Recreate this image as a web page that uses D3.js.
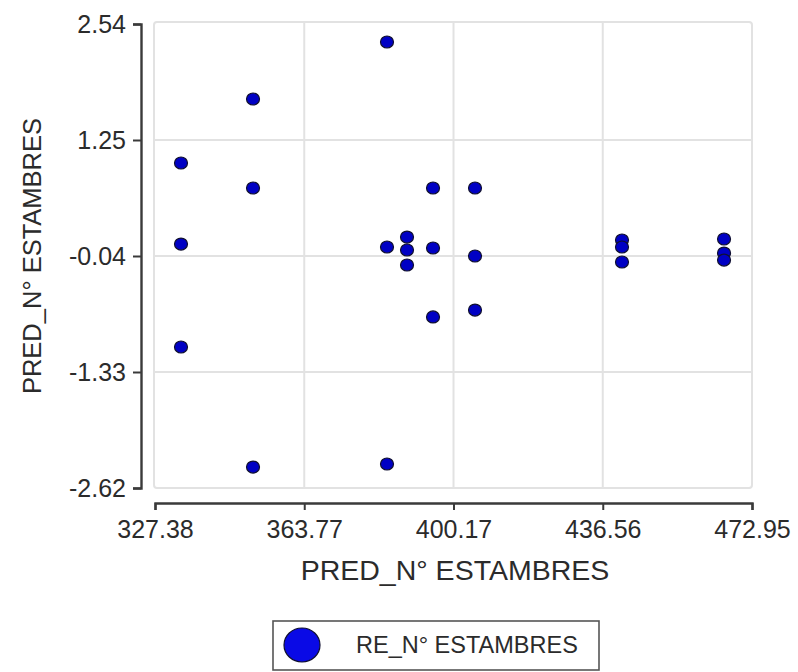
<!DOCTYPE html>
<html>
<head>
<meta charset="utf-8">
<script src="https://cdn.jsdelivr.net/npm/d3@7"></script>
<style>
  html, body { margin: 0; padding: 0; background: #fff; }
  svg { display: block; }
  text { font-family: "Liberation Sans", Arial, sans-serif; fill: #2b2b2b; }
</style>
</head>
<body>
<svg id="chart" width="798" height="672"></svg>
<script>
// ---- data ----
const xValues = [333.72, 333.72, 333.72, 351.28, 351.28, 351.28, 383.95, 383.95, 383.95,
                 388.83, 388.83, 388.83, 395.17, 395.17, 395.17, 405.41, 405.41, 405.41,
                 441.25, 441.25, 441.25, 466.13, 466.13, 466.13];
const yValues = [0.994, 0.093, -1.052, 1.706, 0.716, -2.387, 2.34, 0.06, -2.353,
                 0.171, 0.027, -0.14, 0.716, 0.049, -0.718, 0.716, -0.04, -0.641,
                 0.138, 0.06, -0.107, 0.149, -0.007, -0.085];
const xTicks = [327.38, 363.77, 400.17, 436.56, 472.95];
const yTicks = [-2.62, -1.33, -0.04, 1.25, 2.54];
const xTitle = "PRED_N° ESTAMBRES";
const yTitle = "PRED_N° ESTAMBRES";
const seriesName = "RE_N° ESTAMBRES";

// ---- chart ----
const svg = d3.select("#chart");
const x = d3.scaleLinear().domain([327.38, 472.95]).range([155, 752]);
const y = d3.scaleLinear().domain([-2.62, 2.54]).range([488, 24]);
const fmt = d => d.toFixed(2);

const gridColor = "#e2e2e2";
// grid box
svg.append("rect")
  .attr("x", x.range()[0] - 1).attr("y", y.range()[1] - 2)
  .attr("width", x.range()[1] - x.range()[0] + 1)
  .attr("height", y.range()[0] - y.range()[1] + 2)
  .attr("rx", 3)
  .attr("fill", "#fff").attr("stroke", gridColor).attr("stroke-width", 2);

const grid = svg.append("g");
grid.selectAll("line.v").data(xTicks.slice(1, -1)).join("line")
  .attr("x1", d => x(d)).attr("x2", d => x(d))
  .attr("y1", y.range()[1] - 2).attr("y2", y.range()[0])
  .attr("stroke", gridColor).attr("stroke-width", 2);
grid.selectAll("line.h").data(yTicks.slice(1, -1)).join("line")
  .attr("x1", x.range()[0] - 1).attr("x2", x.range()[1])
  .attr("y1", d => y(d)).attr("y2", d => y(d))
  .attr("stroke", gridColor).attr("stroke-width", 2);

// axes
const axisColor = "#3a3a3a";
const xAxis = svg.append("g").attr("transform", "translate(0,503)")
  .call(d3.axisBottom(x).tickValues(xTicks).tickFormat(fmt)
        .tickSizeOuter(0).tickSize(7).tickPadding(10));
const yAxis = svg.append("g").attr("transform", "translate(141,0)")
  .call(d3.axisLeft(y).tickValues(yTicks).tickFormat(fmt)
        .tickSizeOuter(0).tickSize(8).tickPadding(7));
[xAxis, yAxis].forEach(g => {
  g.select(".domain").attr("stroke", axisColor).attr("stroke-width", 2.4);
  g.selectAll(".tick line").attr("stroke", axisColor).attr("stroke-width", 2);
  g.selectAll(".tick text").attr("font-size", 25).attr("fill", "#2b2b2b")
    .attr("font-family", "Liberation Sans, Arial, sans-serif");
});

// titles
svg.append("text").attr("x", 455).attr("y", 580)
  .attr("text-anchor", "middle").attr("font-size", 28.5).text(xTitle);
svg.append("text")
  .attr("transform", "translate(41,256) rotate(-90)")
  .attr("text-anchor", "middle").attr("font-size", 25.5).text(yTitle);

// points
svg.append("g").selectAll("ellipse").data(xValues.map((v, i) => [v, yValues[i]])).join("ellipse")
  .attr("cx", d => x(d[0])).attr("cy", d => y(d[1]))
  .attr("rx", 6.5).attr("ry", 6)
  .attr("fill", "#0000c4").attr("stroke", "#101030").attr("stroke-width", 1.2);

// legend
const lg = svg.append("g");
lg.append("rect").attr("x", 273).attr("y", 621).attr("width", 326).attr("height", 49)
  .attr("fill", "#fff").attr("stroke", "#555").attr("stroke-width", 1.6);
lg.append("ellipse").attr("cx", 302).attr("cy", 645).attr("rx", 18).attr("ry", 17)
  .attr("fill", "#0a0ae6").attr("stroke", "#101030").attr("stroke-width", 1.2);
lg.append("text").attr("x", 356).attr("y", 653).attr("font-size", 23.5).text(seriesName);
</script>
</body>
</html>
